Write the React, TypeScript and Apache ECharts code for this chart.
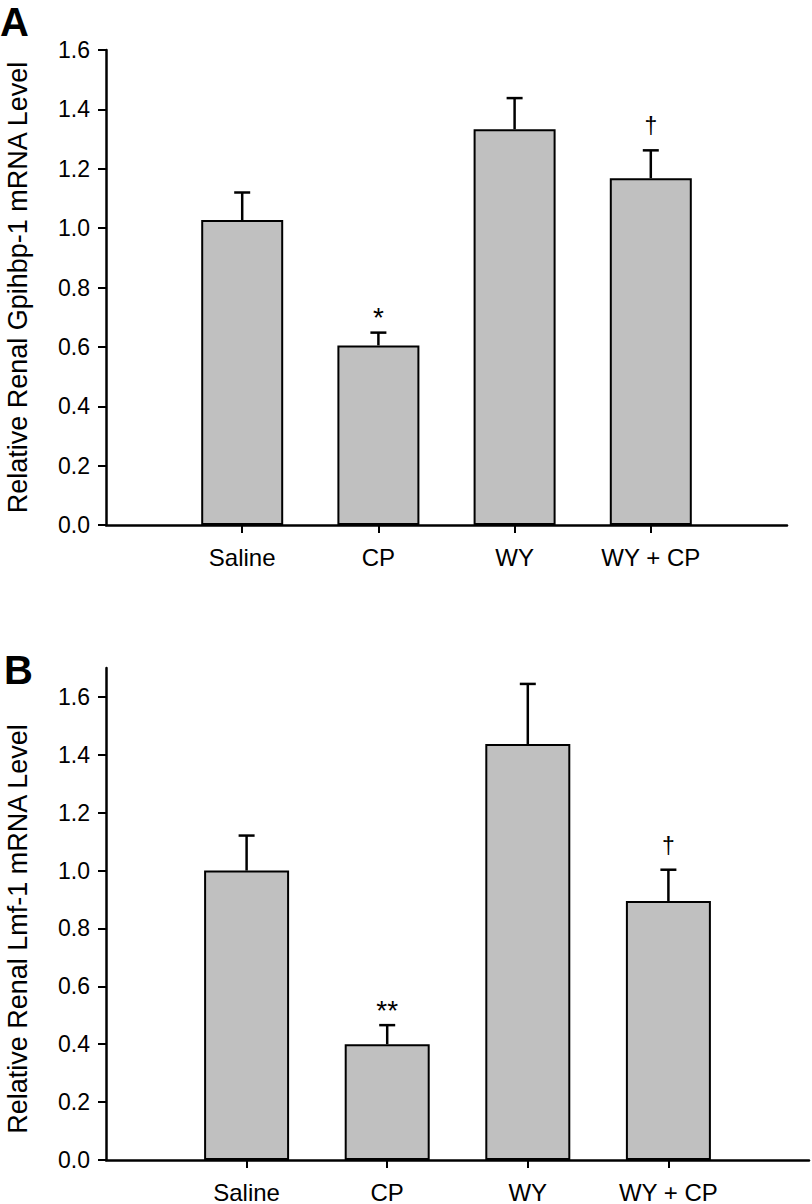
import React, { useEffect, useRef } from "react";
import * as echarts from "echarts";

const categories = ["", "Saline", "CP", "WY", "WY + CP", ""];

const gpihbpMean = [1.027, 0.605, 1.333, 1.168];
const gpihbpSem = [0.093, 0.043, 0.105, 0.094];
const gpihbpMarks = ["", "*", "", "†"];

const lmfMean = [1.0, 0.4, 1.437, 0.895];
const lmfSem = [0.121, 0.066, 0.208, 0.108];
const lmfMarks = ["", "**", "", "†"];

const yTicksA = [0, 0.2, 0.4, 0.6, 0.8, 1.0, 1.2, 1.4, 1.6];
const yTicksB = [0, 0.2, 0.4, 0.6, 0.8, 1.0, 1.2, 1.4, 1.6];

const titleA = "Relative Renal Gpihbp-1 mRNA Level";
const titleB = "Relative Renal Lmf-1 mRNA Level";

const FONT = "'Liberation Sans', Arial, Helvetica, sans-serif";

function barData(means: number[]) {
  return [null, ...means, null];
}

function errData(means: number[], sems: number[]) {
  return means.map((m, i) => [i + 1, m, sems[i]]);
}

function makeErrSeries(xAxisIndex: number, means: number[], sems: number[], marks: string[]) {
  return {
    type: "custom",
    xAxisIndex,
    yAxisIndex: xAxisIndex,
    z: 5,
    data: errData(means, sems),
    renderItem: (params: any, api: any) => {
      const i = api.value(0);
      const m = api.value(1);
      const e = api.value(2);
      const base = api.coord([i, m]);
      const top = api.coord([i, m + e]);
      const half = 8;
      const st = { stroke: "#000", lineWidth: 2.5 };
      const children: any[] = [
        { type: "line", shape: { x1: base[0], y1: base[1], x2: top[0], y2: top[1] }, style: st },
        { type: "line", shape: { x1: top[0] - half, y1: top[1], x2: top[0] + half, y2: top[1] }, style: st },
      ];
      const mk = marks[params.dataIndex];
      if (mk) {
        const isStar = mk.indexOf("*") >= 0;
        children.push({
          type: "text",
          x: top[0],
          y: top[1] - (isStar ? 15 : 24),
          style: {
            text: mk,
            fill: "#000",
            font: `${isStar ? 28 : 23}px ${FONT}`,
            textAlign: "center",
            textVerticalAlign: "middle",
          },
        });
      }
      return { type: "group", children };
    },
  };
}

function xAxisCfg(gridIndex: number, margin: number) {
  return {
    type: "category",
    gridIndex,
    data: categories,
    boundaryGap: false,
    axisLine: { lineStyle: { color: "#000", width: 2.5 } },
    axisTick: {
      length: 8,
      interval: (index: number) => index > 0 && index < categories.length - 1,
      lineStyle: { color: "#000", width: 2 },
    },
    axisLabel: {
      interval: 0,
      color: "#000",
      fontSize: 24,
      fontFamily: FONT,
      margin,
    },
    splitLine: { show: false },
  };
}

function yAxisCfg(gridIndex: number, max: number, ticks: number[]) {
  return {
    type: "value",
    gridIndex,
    min: 0,
    max,
    interval: 0.2,
    axisLine: { show: true, lineStyle: { color: "#000", width: 2.5 } },
    axisTick: { show: true, length: 8, customValues: ticks, lineStyle: { color: "#000", width: 2 } },
    axisLabel: {
      customValues: ticks,
      color: "#000",
      fontSize: 23,
      fontFamily: FONT,
      margin: 16,
      formatter: (v: number) => v.toFixed(1),
    },
    splitLine: { show: false },
  };
}

export default function App() {
  const ref = useRef<HTMLDivElement>(null);
  useEffect(() => {
    if (!ref.current) return;
    const chart = echarts.init(ref.current, null, { renderer: "svg" });
    const barStyle = { color: "#c0c0c0", borderColor: "#000", borderWidth: 2 };
    chart.setOption({
      animation: false,
      backgroundColor: "#fff",
      grid: [
        { left: 106, top: 50, width: 681, height: 475 },
        { left: 106, top: 668, width: 704, height: 493 },
      ],
      xAxis: [xAxisCfg(0, 20), xAxisCfg(1, 20)],
      yAxis: [yAxisCfg(0, 1.6, yTicksA), yAxisCfg(1, 1.7, yTicksB)],
      series: [
        {
          type: "bar",
          xAxisIndex: 0,
          yAxisIndex: 0,
          data: barData(gpihbpMean),
          barWidth: 82,
          itemStyle: barStyle,
        },
        makeErrSeries(0, gpihbpMean, gpihbpSem, gpihbpMarks),
        {
          type: "bar",
          xAxisIndex: 1,
          yAxisIndex: 1,
          data: barData(lmfMean),
          barWidth: 85,
          itemStyle: barStyle,
        },
        makeErrSeries(1, lmfMean, lmfSem, lmfMarks),
      ],
      graphic: [
        {
          type: "text",
          left: 0,
          top: 2,
          style: { text: "A", fill: "#000", font: `bold 40px ${FONT}` },
        },
        {
          type: "text",
          left: 4,
          top: 650,
          style: { text: "B", fill: "#000", font: `bold 40px ${FONT}` },
        },
        {
          type: "text",
          x: 18,
          y: 287.5,
          rotation: Math.PI / 2,
          style: {
            text: titleA,
            fill: "#000",
            font: `27px ${FONT}`,
            textAlign: "center",
            textVerticalAlign: "middle",
          },
        },
        {
          type: "text",
          x: 18,
          y: 929,
          rotation: Math.PI / 2,
          style: {
            text: titleB,
            fill: "#000",
            font: `27px ${FONT}`,
            textAlign: "center",
            textVerticalAlign: "middle",
          },
        },
      ],
    });
    return () => chart.dispose();
  }, []);
  return (
    <div
      ref={ref}
      style={{ position: "fixed", left: 0, top: 0, width: 812, height: 1204, background: "#fff" }}
    />
  );
}
